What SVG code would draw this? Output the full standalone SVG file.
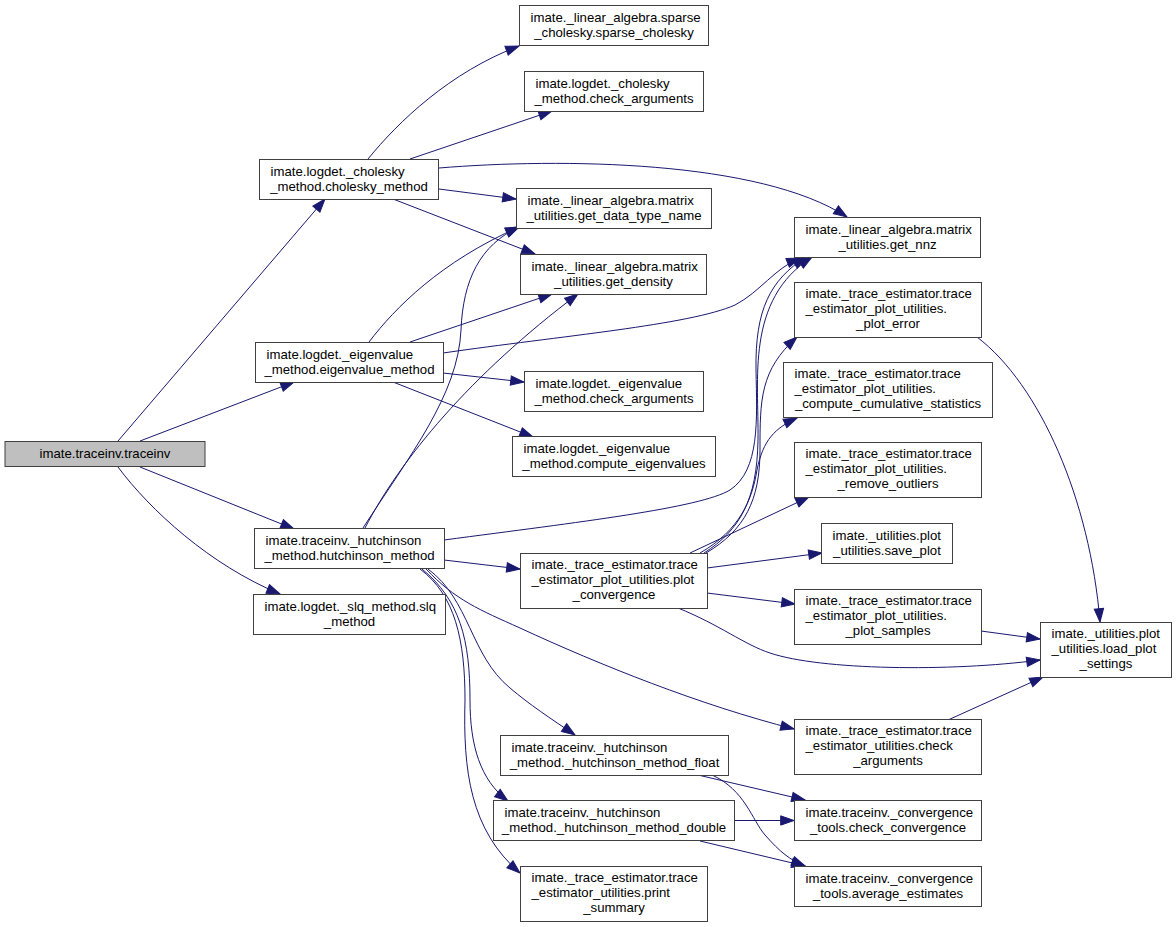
<svg xmlns="http://www.w3.org/2000/svg" width="1176" height="927" viewBox="0 0 1176 927">
<style>
.node rect{fill:#ffffff;stroke:#404040;stroke-width:1}
.node.root rect{fill:#bfbfbf}
.node text{font-family:"Liberation Sans",Arial,Helvetica,sans-serif;font-size:13.2px;fill:#000000}
.node text.c{text-anchor:middle}
.edge path{fill:none;stroke:#191970;stroke-width:1;marker-end:url(#arr)}
</style>
<defs>
<marker id="arr" markerUnits="userSpaceOnUse" viewBox="0 -5 14 10" markerWidth="14" markerHeight="10" refX="13.3" refY="0" orient="auto" overflow="visible">
<path d="M0,-4.67 L13.3,0 L0,4.67 z" fill="#191970" stroke="#191970" stroke-width="1"/>
</marker>
</defs>
<rect x="0" y="0" width="1176" height="927" fill="#ffffff"/>
<g id="edges" class="edge">
<path d="M118,441 L325,199"/>
<path d="M140,441 L294,382"/>
<path d="M140,467 L294,529"/>
<path d="M118,467 C150,510 210,565 280,594"/>
<path d="M368,159 C398,122 450,72 519,46"/>
<path d="M410,159 L552,111"/>
<path d="M439,168 C560,158 760,160 847,217"/>
<path d="M439,189 L516,199"/>
<path d="M393,199 L535,254"/>
<path d="M369,342 C395,308 440,262 519,227"/>
<path d="M410,342 L552,294"/>
<path d="M443,353 C560,336 690,325 735,305 C760,292 775,268 800,258"/>
<path d="M443,373 L524,382"/>
<path d="M393,382 L533,437"/>
<path d="M363,528 C410,455 458,395 461,330 C463,280 480,245 519,227"/>
<path d="M365,528 C400,460 470,375 578,294"/>
<path d="M444,540 C580,522 700,508 730,490 C760,470 757,420 756,370 C755,310 770,280 806,257"/>
<path d="M444,560 L520,569"/>
<path d="M426,569 C455,600 480,610 520,628 C600,665 700,705 794,729"/>
<path d="M428,569 C470,600 470,655 510,688 C530,705 550,718 575,735"/>
<path d="M422,569 C460,600 470,640 470,700 C470,745 480,780 508,801"/>
<path d="M420,569 C455,595 465,640 465,700 C463,770 470,830 520,873"/>
<path d="M704,553 C740,530 757,500 758,440 C759,380 745,300 812,257"/>
<path d="M706,553 C745,530 760,500 760,450 C760,400 760,370 797,337"/>
<path d="M700,553 C740,530 752,500 757,470 C763,440 775,428 797,418"/>
<path d="M690,553 L809,497"/>
<path d="M707,568 L822,553"/>
<path d="M707,593 L795,604"/>
<path d="M678,608 C720,625 745,645 770,653 C820,670 950,672 1040,660"/>
<path d="M981,631 L1040,639"/>
<path d="M977,337 C1040,385 1090,500 1100,622"/>
<path d="M948,720 L1043,677"/>
<path d="M698,775 L805,800"/>
<path d="M712,775 C745,790 752,820 765,835 C780,852 790,860 805,866"/>
<path d="M735,820.5 L794,820.5"/>
<path d="M700,841 L805,866"/>
</g>
<g id="n_traceinv" class="node root"><rect x="5" y="441.5" width="200" height="25"/><text class="c" x="105" y="458">imate.traceinv.traceinv</text></g>
<g id="n_cholesky_method" class="node"><rect x="259.5" y="159.5" width="179" height="40"/><text x="270.5" y="175.8">imate.logdet._cholesky</text><text class="c" x="349" y="190.5">_method.cholesky_method</text></g>
<g id="n_sparse_cholesky" class="node"><rect x="519.5" y="5.5" width="189" height="40"/><text x="530.5" y="21.8">imate._linear_algebra.sparse</text><text class="c" x="614" y="36.5">_cholesky.sparse_cholesky</text></g>
<g id="n_chol_check" class="node"><rect x="524.5" y="71.5" width="179" height="40"/><text x="535.5" y="87.8">imate.logdet._cholesky</text><text class="c" x="614" y="102.5">_method.check_arguments</text></g>
<g id="n_dtn" class="node"><rect x="516.5" y="188.5" width="195" height="40"/><text x="527.5" y="204.8">imate._linear_algebra.matrix</text><text class="c" x="614" y="219.5">_utilities.get_data_type_name</text></g>
<g id="n_density" class="node"><rect x="520.5" y="254.5" width="186" height="40"/><text x="531.5" y="270.8">imate._linear_algebra.matrix</text><text class="c" x="613.5" y="285.5">_utilities.get_density</text></g>
<g id="n_nnz" class="node"><rect x="794.5" y="217.5" width="186" height="40"/><text x="805.5" y="233.8">imate._linear_algebra.matrix</text><text class="c" x="887.5" y="248.5">_utilities.get_nnz</text></g>
<g id="n_eigenvalue_method" class="node"><rect x="255.5" y="342.5" width="188" height="40"/><text x="266.5" y="358.8">imate.logdet._eigenvalue</text><text class="c" x="349.5" y="373.5">_method.eigenvalue_method</text></g>
<g id="n_eig_check" class="node"><rect x="524.5" y="371.5" width="179" height="40"/><text x="535.5" y="387.8">imate.logdet._eigenvalue</text><text class="c" x="614" y="402.5">_method.check_arguments</text></g>
<g id="n_compute_eig" class="node"><rect x="512.5" y="436.5" width="203" height="40"/><text x="523.5" y="452.8">imate.logdet._eigenvalue</text><text class="c" x="614" y="467.5">_method.compute_eigenvalues</text></g>
<g id="n_hutchinson_method" class="node"><rect x="254.5" y="528.5" width="190" height="40"/><text x="265.5" y="544.8">imate.traceinv._hutchinson</text><text class="c" x="349.5" y="559.5">_method.hutchinson_method</text></g>
<g id="n_slq" class="node"><rect x="253.5" y="594.5" width="192" height="40"/><text x="264.5" y="610.8">imate.logdet._slq_method.slq</text><text class="c" x="349.5" y="625.5">_method</text></g>
<g id="n_plot_convergence" class="node"><rect x="520.5" y="553.5" width="187" height="55"/><text x="531.5" y="569.1">imate._trace_estimator.trace</text><text x="531.5" y="583.8">_estimator_plot_utilities.plot</text><text class="c" x="614" y="598.5">_convergence</text></g>
<g id="n_plot_error" class="node"><rect x="794.5" y="282.5" width="187" height="55"/><text x="805.5" y="298.1">imate._trace_estimator.trace</text><text x="805.5" y="312.8">_estimator_plot_utilities.</text><text class="c" x="888" y="327.5">_plot_error</text></g>
<g id="n_cumulative" class="node"><rect x="783.5" y="362.5" width="209" height="55"/><text x="794.5" y="378.1">imate._trace_estimator.trace</text><text x="794.5" y="392.8">_estimator_plot_utilities.</text><text class="c" x="888" y="407.5">_compute_cumulative_statistics</text></g>
<g id="n_remove_outliers" class="node"><rect x="794.5" y="442.5" width="187" height="55"/><text x="805.5" y="458.1">imate._trace_estimator.trace</text><text x="805.5" y="472.8">_estimator_plot_utilities.</text><text class="c" x="888" y="487.5">_remove_outliers</text></g>
<g id="n_save_plot" class="node"><rect x="821.5" y="523.5" width="131" height="40"/><text x="832.5" y="539.8">imate._utilities.plot</text><text class="c" x="887" y="554.5">_utilities.save_plot</text></g>
<g id="n_plot_samples" class="node"><rect x="794.5" y="589.5" width="187" height="55"/><text x="805.5" y="605.1">imate._trace_estimator.trace</text><text x="805.5" y="619.8">_estimator_plot_utilities.</text><text class="c" x="888" y="634.5">_plot_samples</text></g>
<g id="n_load_plot_settings" class="node"><rect x="1040.5" y="622.5" width="131" height="55"/><text x="1051.5" y="638.1">imate._utilities.plot</text><text x="1051.5" y="652.8">_utilities.load_plot</text><text class="c" x="1106" y="667.5">_settings</text></g>
<g id="n_te_check_arguments" class="node"><rect x="794.5" y="719.5" width="187" height="55"/><text x="805.5" y="735.1">imate._trace_estimator.trace</text><text x="805.5" y="749.8">_estimator_utilities.check</text><text class="c" x="888" y="764.5">_arguments</text></g>
<g id="n_hutch_float" class="node"><rect x="500.5" y="735.5" width="228" height="40"/><text x="511.5" y="751.8">imate.traceinv._hutchinson</text><text class="c" x="614.5" y="766.5">_method._hutchinson_method_float</text></g>
<g id="n_hutch_double" class="node"><rect x="493.5" y="800.5" width="241" height="40"/><text x="504.5" y="816.8">imate.traceinv._hutchinson</text><text class="c" x="614" y="831.5">_method._hutchinson_method_double</text></g>
<g id="n_print_summary" class="node"><rect x="520.5" y="866.5" width="187" height="55"/><text x="531.5" y="882.1">imate._trace_estimator.trace</text><text x="531.5" y="896.8">_estimator_utilities.print</text><text class="c" x="614" y="911.5">_summary</text></g>
<g id="n_check_convergence" class="node"><rect x="794.5" y="800.5" width="187" height="40"/><text x="805.5" y="816.8">imate.traceinv._convergence</text><text class="c" x="888" y="831.5">_tools.check_convergence</text></g>
<g id="n_average_estimates" class="node"><rect x="794.5" y="866.5" width="187" height="40"/><text x="805.5" y="882.8">imate.traceinv._convergence</text><text class="c" x="888" y="897.5">_tools.average_estimates</text></g>
</svg>
